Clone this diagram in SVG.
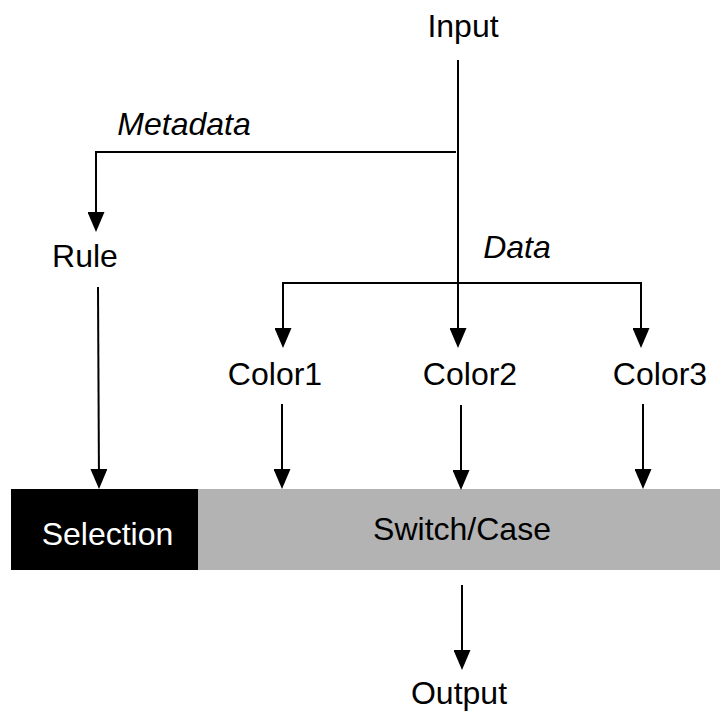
<svg xmlns="http://www.w3.org/2000/svg" width="720" height="713" viewBox="0 0 720 713">
  <style>
    .lbl { font-family: "Liberation Sans", Arial, sans-serif; font-size: 32px; fill: #000; text-anchor: middle; }
    .it { font-style: italic; }
    .wire { fill: none; stroke: #000; stroke-width: 2; }
    .arr { marker-end: url(#ah); }
  </style>
  <defs>
    <marker id="ah" viewBox="0 0 20 17" markerUnits="userSpaceOnUse" markerWidth="20" markerHeight="17" refX="16" refY="8.5" orient="auto">
      <path d="M0,0 L20,8.5 L0,17 z" fill="#000"/>
    </marker>
  </defs>
  <rect width="720" height="713" fill="#fff"/>

  <g id="node-input"><text class="lbl" x="463" y="37">Input</text></g>
  <g id="label-metadata"><text class="lbl it" x="184" y="135">Metadata</text></g>
  <g id="node-rule"><text class="lbl" x="85" y="267">Rule</text></g>
  <g id="label-data"><text class="lbl it" x="517" y="258">Data</text></g>
  <g id="node-color1"><text class="lbl" x="275" y="385">Color1</text></g>
  <g id="node-color2"><text class="lbl" x="470" y="385">Color2</text></g>
  <g id="node-color3"><text class="lbl" x="660" y="385">Color3</text></g>
  <g id="node-selection">
    <rect x="11" y="489" width="187" height="81" fill="#000"/>
    <text class="lbl" x="107.5" y="545" style="fill:#fff">Selection</text>
  </g>
  <g id="node-switch">
    <rect x="198" y="489" width="522" height="81" fill="#b3b3b3"/>
    <text class="lbl" x="462" y="540">Switch/Case</text>
  </g>
  <g id="node-output"><text class="lbl" x="459" y="704">Output</text></g>

  <g id="connectors">
    <path class="wire arr" d="M458,60 V344"/>
    <path class="wire arr" d="M456,152 H96 V228"/>
    <path class="wire arr" d="M458,283 H283 V344"/>
    <path class="wire arr" d="M458,283 H641 V344"/>
    <path class="wire arr" d="M98,287 L99,485"/>
    <path class="wire arr" d="M282,404 V485"/>
    <path class="wire arr" d="M461,405 V486"/>
    <path class="wire arr" d="M643,404 V485"/>
    <path class="wire arr" d="M462,585 V666"/>
  </g>
</svg>
